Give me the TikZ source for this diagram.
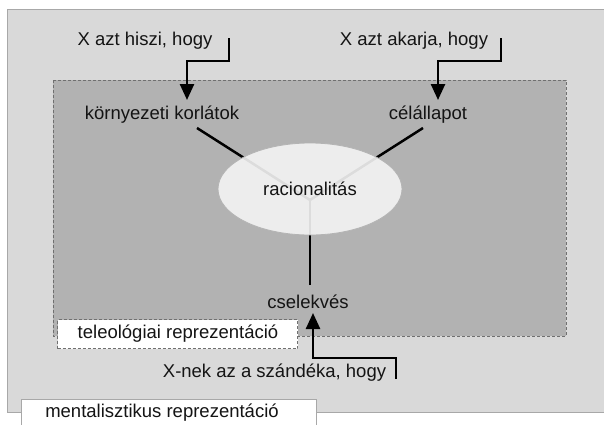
\documentclass[tikz,border=0pt]{standalone}
\usepackage{fontspec}
\setmainfont{Liberation Sans}
\usetikzlibrary{arrows.meta,shapes.geometric}

\definecolor{outerfill}{HTML}{D9D9D9}
\definecolor{outerline}{HTML}{A8A8A8}
\definecolor{innerfill}{HTML}{B2B2B2}
\definecolor{innerline}{HTML}{707070}
\definecolor{ellfill}{HTML}{F4F4F4}
\definecolor{ellline}{HTML}{B4B4B4}
\definecolor{textgray}{HTML}{141414}

\begin{document}
\begin{tikzpicture}[x=1pt,y=-1pt,
  lbl/.style={inner sep=0pt, text=textgray, font=\fontsize{18.5}{22}\selectfont},
  link/.style={line width=2.5pt, black},
  feed/.style={line width=2.5pt, black, -{Triangle[width=14pt,length=16pt]}},
  framebox/.style={draw=innerline, line width=1pt, dash pattern=on 3pt off 2pt}]

 \useasboundingbox (0,0) rectangle (604,424);

 % boundary
 \fill[outerfill, draw=outerline, line width=1pt] (7,9) rectangle (612,412);
 \fill[innerfill, framebox] (53,80) rectangle (566,336);

 % nodes
 \coordinate (mid)     at (310,200);
 \coordinate (korlend) at (197,128);
 \coordinate (celend)  at (423,128);
 \coordinate (cselend) at (310,285);

 \coordinate (hs)      at (229,38);
 \coordinate (hsturn)  at (187,61);
 \coordinate (hsend)   at (187,100);
 \coordinate (ak)      at (501,38);
 \coordinate (akturn)  at (438,61);
 \coordinate (akend)   at (438,100);
 \coordinate (sz)      at (396,379);
 \coordinate (szturn)  at (313,358);
 \coordinate (szend)   at (313,313);

 % elements
 \draw[link] (korlend) -- (mid);
 \draw[link] (celend) -- (mid);
 \draw[link] (cselend) -- (mid);

 \node[ellipse, fill=ellfill, fill opacity=0.9, draw=ellline, line width=0.8pt,
       minimum width=184pt, minimum height=92pt] (racell) at (310,189) {};

 % labels
 \node[lbl] (rac)    at (310,189) {racionalitás};
 \node[lbl] (korl)   at (162,115) {környezeti korlátok};
 \node[lbl] (cel)    at (428,115) {célállapot};
 \node[lbl] (csel)   at (308,302) {cselekvés};
 \node[lbl] (hiszi)  at (145,41)  {X azt hiszi, hogy};
 \node[lbl] (akarja) at (414,41)  {X azt akarja, hogy};
 \node[lbl] (szand)  at (274.5,373) {X-nek az a szándéka, hogy};

 % arrows
 \draw[feed] (hs) |- (hsturn) -- (hsend);
 \draw[feed] (ak) |- (akturn) -- (akend);
 \draw[feed] (sz) |- (szturn) -- (szend);

 % legend
 \node[framebox, fill=white, minimum width=240pt, minimum height=29pt,
       anchor=north west] (telebox) at (57,319) {};
 \node[lbl] (tele) at (178,333.5) {teleológiai reprezentáció};
 \node[draw=outerline, fill=white, line width=1pt, minimum width=295pt,
       minimum height=34pt, anchor=north west] (mentbox) at (21,399) {};
 \node[lbl] (ment) at (162,413) {mentalisztikus reprezentáció};
\end{tikzpicture}
\end{document}
